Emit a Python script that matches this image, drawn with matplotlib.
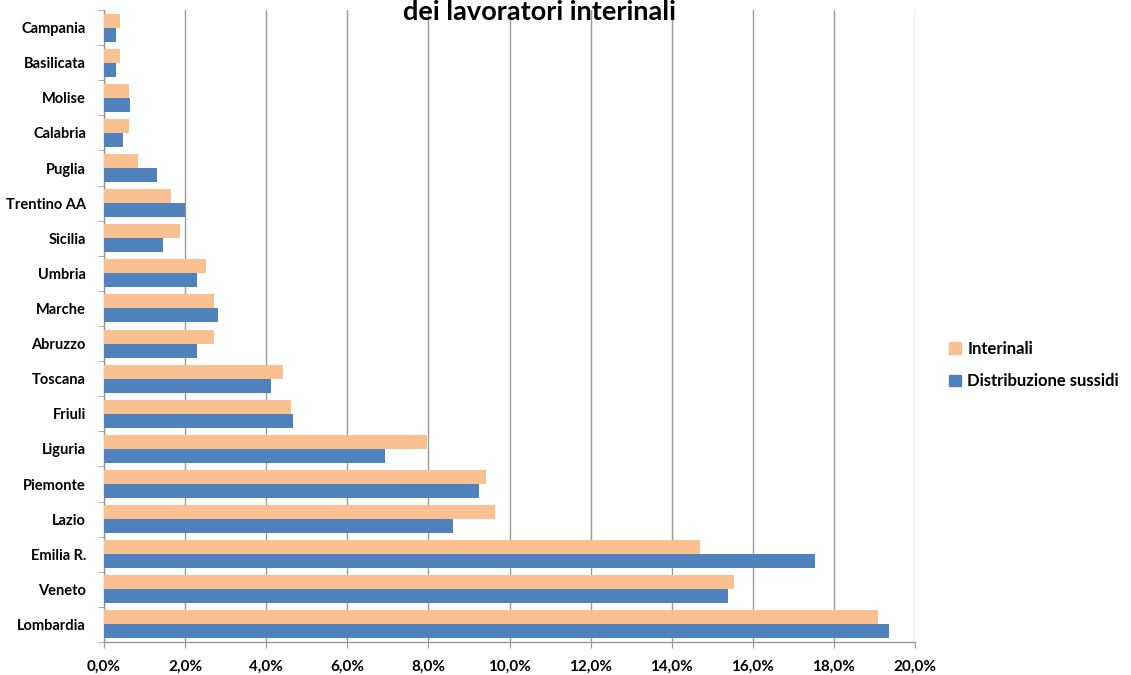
import matplotlib
matplotlib.use('Agg')
import matplotlib.pyplot as plt
import matplotlib.ticker as mticker
from matplotlib.patches import Patch
from matplotlib import rcParams
import numpy as np

rcParams['font.family'] = ['Lato', 'DejaVu Sans']
rcParams['font.weight'] = 'bold'

# regions from bottom (Lombardia) to top (Campania)
regions = ['Lombardia', 'Veneto', 'Emilia R.', 'Lazio', 'Piemonte', 'Liguria',
           'Friuli', 'Toscana', 'Abruzzo', 'Marche', 'Umbria', 'Sicilia',
           'Trentino AA', 'Puglia', 'Calabria', 'Molise', 'Basilicata', 'Campania']
interinali = [19.09, 15.54, 14.70, 9.64, 9.43, 7.97,
              4.62, 4.41, 2.72, 2.72, 2.51, 1.87,
              1.65, 0.83, 0.61, 0.61, 0.40, 0.40]
sussidi = [19.36, 15.39, 17.54, 8.60, 9.24, 6.94,
           4.66, 4.13, 2.29, 2.81, 2.29, 1.46,
           1.99, 1.31, 0.46, 0.65, 0.30, 0.30]
xticks = [0, 2, 4, 6, 8, 10, 12, 14, 16, 18, 20]

c_int = '#FAC090'
c_sus = '#4F81BD'
grid_c = '#9A9A9A'


def pct_comma(v, pos):
    s = '{:.1f}'.format(v).replace('.', ',')
    return s + '%'


fig = plt.figure(figsize=(11.31, 6.75), dpi=100)
ax = fig.add_axes([104 / 1131, 1 - 642 / 675, (915 - 104) / 1131, (642 - 10) / 675])

y = np.arange(len(regions))
h = 0.4
ax.barh(y + h / 2, interinali, height=h, color=c_int, zorder=3)
ax.barh(y - h / 2, sussidi, height=h, color=c_sus, zorder=3)

ax.set_xlim(0, 20)
ax.set_ylim(-0.5, len(regions) - 0.5)
ax.set_xticks(xticks)
ax.xaxis.set_major_formatter(mticker.FuncFormatter(pct_comma))
ax.grid(axis='x', color=grid_c, linewidth=1, zorder=0)
ax.grid(axis='y', visible=False)

ax.set_yticks(y)
ax.set_yticklabels(regions)
ax.set_yticks(np.arange(-0.5, len(regions), 1), minor=True)
ax.tick_params(axis='y', which='major', length=0, pad=13, labelsize=10.5)
ax.tick_params(axis='y', which='minor', length=4, color=grid_c, direction='out')
ax.tick_params(axis='x', length=4, color=grid_c, pad=9, labelsize=11)

for s in ['top', 'right']:
    ax.spines[s].set_visible(False)
for s in ['left', 'bottom']:
    ax.spines[s].set_color(grid_c)
    ax.spines[s].set_linewidth(1)

fig.text(0.477, 1 - 20 / 675, 'dei lavoratori interinali', ha='center', va='baseline',
         fontsize=19.5, fontweight='bold')

handles = [Patch(color=c_int, label='Interinali'), Patch(color=c_sus, label='Distribuzione sussidi')]
fig.legend(handles=handles, loc='center left', bbox_to_anchor=(934 / 1131, 1 - 365 / 675),
           frameon=False, handlelength=0.7, handleheight=0.7,
           handletextpad=0.4, labelspacing=1.0, prop={'weight': 'bold', 'size': 12})

fig.savefig('out.png', dpi=100)
